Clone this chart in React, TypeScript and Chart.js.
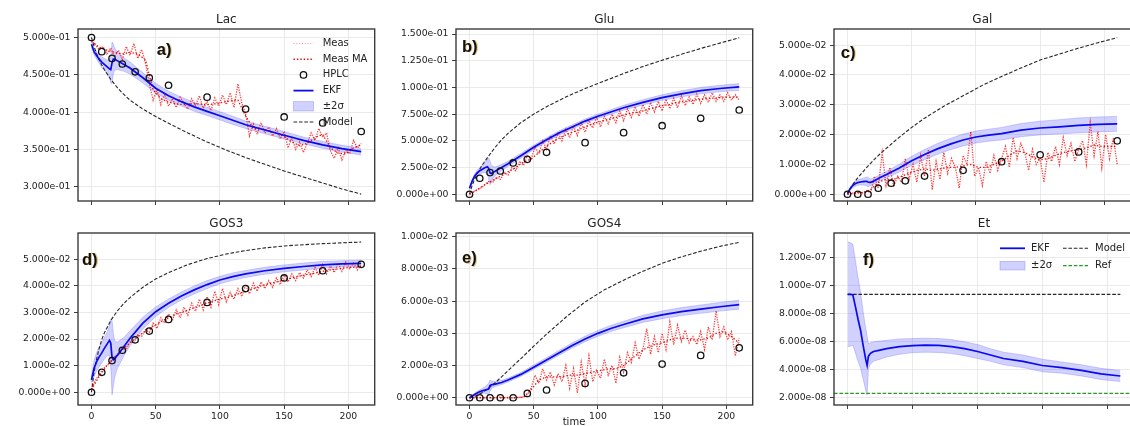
import React, { useEffect, useRef } from "react";
import { Chart, registerables } from "chart.js";

Chart.register(...registerables);

// ---------------- time grids ----------------
const tMeas = [0, 3, 6, 9, 12, 15, 18, 21, 24, 27, 30, 33, 36, 39, 42, 45, 48, 51, 54, 57, 60, 63, 66, 69, 72, 75, 78, 81, 84, 87, 90, 93, 96, 99, 102, 105, 108, 111, 114, 117, 120, 123, 126, 129, 132, 135, 138, 141, 144, 147, 150, 153, 156, 159, 162, 165, 168, 171, 174, 177, 180, 183, 186, 189, 192, 195, 198, 201, 204, 207, 210];
const tMA = [0, 6, 12, 18, 24, 30, 36, 42, 48, 54, 60, 66, 72, 78, 84, 90, 96, 102, 108, 114, 120, 126, 132, 138, 144, 150, 156, 162, 168, 174, 180, 186, 192, 198, 204, 210];
const tHPLC = [0, 8, 16, 24, 34, 45, 60, 90, 120, 150, 180, 210];
const tEKF = [0, 2, 4, 6, 8, 10, 12, 14, 15, 16, 17, 18, 20, 25, 30, 40, 50, 60, 70, 80, 90, 100, 110, 120, 135, 150, 165, 180, 195, 210];
const tModel = [0, 2, 4, 6, 8, 10, 15, 20, 25, 30, 40, 50, 60, 75, 90, 105, 120, 135, 150, 165, 180, 195, 210];
const tModelF = [0, 210];
const tRefF = [-10.5, 220.5];
const xTicks = [0, 50, 100, 150, 200];

// ---------------- a) Lac  (units 1e-3) ----------------
const lacMeas = [496, 490, 484, 488, 478, 486, 474, 483, 470, 488, 476, 492, 472, 484, 466, 438, 416, 430, 410, 424, 408, 418, 406, 420, 412, 404, 418, 409, 422, 405, 414, 402, 419, 408, 423, 410, 426, 406, 438, 412, 398, 368, 384, 370, 386, 372, 380, 368, 378, 364, 374, 352, 366, 350, 360, 346, 358, 372, 362, 378, 366, 372, 348, 338, 352, 336, 350, 344, 362, 352, 358];
const lacMA = [495, 487, 483, 480, 478, 480, 478, 470, 430, 418, 413, 411, 410, 411, 411, 410, 411, 413, 415, 416, 395, 378, 377, 375, 372, 367, 360, 355, 358, 366, 370, 352, 345, 344, 352, 356];
const lacHPLC = [500, 481, 472, 464.5, 454, 446, 436, 420, 404, 393.5, 385.5, 374];
const lacModel = [500, 488, 478, 470, 463, 457, 444, 433, 424, 416, 404, 394, 385, 372, 360, 349, 339, 330, 321, 313, 305, 297, 290];
const lacEKF = [491, 481, 476, 471, 467, 464, 461, 458, 457, 466, 471, 471, 469, 464, 459, 446, 432, 422, 414, 407, 401, 395, 389, 383, 376, 369, 362, 356, 351, 347];
const lacHW = [3, 4, 5, 6, 7, 8, 9, 12, 18, 28, 20, 15, 12, 9, 8, 7, 6.5, 6, 6, 6, 5.5, 5.5, 5.5, 5, 5, 5, 4.5, 4.5, 4.5, 4.5];
const lacYTicks = [300, 350, 400, 450, 500];

// ---------------- b) Glu  (units 1e-3) ----------------
const gluMeas = [0, 2.5, 4.5, 6, 9, 12, 11, 16, 14, 20, 18, 25, 22, 31, 27, 36, 33, 44, 38, 50, 42, 55, 47, 58, 50, 61, 53, 64, 55, 67, 58, 69, 62, 72, 63, 73, 66, 75, 67, 78, 69, 80, 72, 82, 73, 84, 75, 86, 77, 87, 78, 89, 80, 90, 81, 92, 83, 91, 84, 94, 85, 93, 86, 95, 87, 93, 87, 95, 88, 93, 88];
const gluMA = [0, 4, 9, 13, 17, 21, 25, 30, 33, 39, 45, 50, 54, 57, 60, 63, 66, 68, 70, 72, 74, 76, 77, 79, 81, 83, 84, 86, 87, 88, 89, 90, 90, 91, 91, 91];
const gluHPLC = [0, 15, 20.3, 21.8, 29.3, 32.7, 39.3, 48.3, 57.7, 64.2, 71.1, 78.9];
const gluModel = [0, 8, 14, 19, 23.5, 27.5, 36, 44, 51, 57, 67, 75, 82, 91, 99, 106, 113, 119.5, 125.5, 131, 136.5, 141.5, 146.5];
const gluEKF = [5.6, 12, 17, 20, 22, 23.5, 24.8, 25.8, 24, 20, 19.5, 20.3, 21.5, 25, 28.5, 36, 44, 51, 57.5, 63, 68.5, 73, 77, 81, 86, 90.5, 94, 97, 99, 100.5];
const gluHW = [1, 1.5, 2, 2.5, 3, 3.5, 4.5, 7, 10, 11, 8, 6, 4, 3, 2.5, 2.2, 2, 2, 2, 2, 2, 2, 2.2, 2.3, 2.5, 2.6, 2.8, 3, 3, 3.2];
const gluYTicks = [0, 25, 50, 75, 100, 125, 150];

// ---------------- c) Gal  (units 1e-3) ----------------
const galMeas = [0, 0.5, 0.3, 0.8, 0.4, 1.2, 0.5, 6, 2, 14, 3, 9, 2.5, 6, 4, 12, 5, 10, 4, 13, 6, 15, 1.5, 11, 5, 14, 7, 12, 9, 2, 13, 10, 21, 6, 9, 3, 11, 7, 13, 8, 12, 16, 9, 19, 12, 17, 14, 8, 15, 10, 12, 4, 14, 11, 16, 10, 19, 13, 17, 11, 15, 18, 10, 24, 13, 21, 9, 20, 12, 19, 10];
const galMA = [0, 0.4, 0.6, 1.5, 4, 5, 5, 6, 7, 8, 8.5, 8, 8.5, 9, 9, 9.5, 10, 9, 9, 10, 11, 13, 14.5, 14, 12.5, 11.5, 12, 13, 14, 14.5, 15, 15.5, 16.5, 16, 16, 16];
const galHPLC = [0, 0, 0, 2, 3.7, 4.5, 6.1, 8, 10.9, 13.2, 14.2, 17.9];
const galModel = [0, 1.8, 3.2, 4.4, 5.5, 6.5, 9, 11.3, 13.4, 15.3, 19, 22.4, 25.5, 29.5, 33, 36.5, 39.5, 42.3, 45, 47, 49, 50.8, 52.5];
const galEKF = [0.3, 1.8, 2.9, 3.5, 3.9, 4.1, 4.2, 4.3, 4.3, 4.1, 4.0, 4.0, 4.3, 5.5, 6.5, 8.7, 11.2, 13.3, 15.2, 16.8, 18.2, 19.2, 19.8, 20.3, 21.5, 22.2, 22.6, 23.1, 23.4, 23.6];
const galHW = [0.3, 0.5, 0.7, 0.8, 0.9, 1.0, 1.1, 1.3, 1.5, 1.6, 1.3, 1.1, 1.0, 1.0, 1.1, 1.3, 1.5, 1.7, 1.8, 1.9, 2.0, 2.0, 2.0, 2.1, 2.2, 2.3, 2.4, 2.5, 2.5, 2.5];
const galYTicks = [0, 10, 20, 30, 40, 50];

// ---------------- d) GOS3  (units 1e-3) ----------------
const gos3Meas = [1, 4.5, 6.5, 8.8, 10, 11.5, 13.5, 14, 16.5, 16, 19, 18.5, 21.5, 21, 23.5, 22.5, 26, 24, 28, 26, 29.5, 27, 31, 28, 32, 29, 33.5, 30.5, 35, 31, 36, 32, 38, 33, 39, 34, 37.5, 35, 39, 36, 40.5, 37, 41, 38, 41.5, 39, 42, 39.5, 43, 40.5, 44, 41.5, 44.5, 42, 45, 43, 46, 43.5, 47, 44, 48, 44.5, 47.5, 45, 48.5, 45.5, 49, 46.5, 48.5, 46, 48];
const gos3MA = [1, 6, 10, 13, 16, 18.5, 21, 23, 24.8, 26.5, 28, 29.5, 30.3, 31.5, 32.5, 33.5, 34.5, 35.3, 36, 37, 38, 39, 40, 40.8, 41.5, 42.2, 43, 43.7, 44.3, 44.8, 45.5, 46, 46.4, 46.8, 47, 47.2];
const gos3HPLC = [0, 7.5, 11.9, 15.8, 19.7, 23, 27.4, 33.8, 39, 43, 45.7, 48.1];
const gos3Model = [0, 7.5, 12.5, 16.5, 19.8, 22.3, 27, 30.5, 33.3, 35.6, 39.5, 42.6, 45, 48, 50.3, 52, 53.3, 54.3, 55, 55.5, 55.9, 56.2, 56.5];
const gos3EKF = [4.6, 9, 11.5, 13.3, 14.8, 16.5, 18, 19.5, 18.5, 13, 12.2, 12.5, 13.8, 17, 20.3, 26, 30.3, 33.5, 36.2, 38.5, 40.5, 42.2, 43.5, 44.5, 45.7, 46.6, 47.3, 47.9, 48.3, 48.5];
const gos3HW = [1, 3, 3.5, 3.7, 3.8, 4, 4.5, 5.5, 9, 14, 10, 7, 5, 3.5, 2.8, 2.2, 1.8, 1.6, 1.5, 1.5, 1.5, 1.4, 1.4, 1.3, 1.3, 1.3, 1.3, 1.3, 1.2, 1.2];
const gos3YTicks = [0, 10, 20, 30, 40, 50];

// ---------------- e) GOS4  (units 1e-4) ----------------
const gos4Meas = [0, 0.2, -0.1, 0.3, 0, 0.2, -0.2, 0.1, 0.3, 0, 0.2, -0.1, 0.2, 0.3, 0.5, 2, 6, 14, 9, 18, 11, 16, 8, 15, 10, 20, 6, 18, 3, 22, 8, 26, 10, 17, 12, 24, 14, 20, 9, 25, 16, 28, 22, 34, 24, 30, 43, 27, 38, 28, 40, 30, 47, 33, 45, 35, 42, 34, 38, 33, 41, 30, 44, 36, 54, 38, 44, 36, 41, 26, 37];
const gos4MA = [0, 0, 0, 0, 0, 0, 0, 0.3, 5, 11, 13, 13, 13, 14, 14, 15, 16, 17, 18, 18, 20, 24, 28, 31, 33, 34, 36, 37, 37, 36, 36, 37, 40, 41, 38, 34];
const gos4HPLC = [0, 0, 0, 0, 0, 2.7, 4.8, 8.9, 15.5, 20.9, 26.3, 31];
const gos4Model = [0, 0.3, 0.8, 1.5, 2.3, 3.2, 6, 9.3, 13, 16.8, 24.3, 32, 39.5, 50, 59.5, 67, 73, 78.5, 83.5, 87.5, 91, 94, 96.5];
const gos4EKF = [0, 1, 2, 3, 3.7, 4.3, 4.8, 5.2, 5.5, 7.5, 8, 8.2, 8.5, 9.5, 11, 14.5, 19, 23.5, 28, 32.5, 36.5, 40, 43, 45.5, 49, 51.5, 53.5, 55, 56.5, 57.8];
const gos4HW = [0.5, 0.7, 0.8, 1, 1.2, 1.5, 2, 3, 3.5, 3.5, 2.5, 2, 1.5, 1.3, 1.2, 1.2, 1.3, 1.4, 1.5, 1.6, 1.7, 1.8, 1.9, 2, 2.2, 2.4, 2.5, 2.6, 2.7, 2.8];
const gos4YTicks = [0, 20, 40, 60, 80, 100];

// ---------------- f) Et  (units 1e-8) ----------------
const etEKF = [9.38, 9.38, 9.35, 8.5, 7.6, 6.8, 5.7, 4.7, 4.3, 4.95, 5.1, 5.2, 5.3, 5.4, 5.5, 5.65, 5.72, 5.75, 5.73, 5.65, 5.5, 5.3, 5.05, 4.8, 4.6, 4.3, 4.15, 3.95, 3.7, 3.55];
const etHW = [3.75, 3.7, 3.6, 3.3, 3.0, 2.7, 2.4, 2.2, 2.1, 0.9, 0.8, 0.75, 0.7, 0.65, 0.6, 0.55, 0.5, 0.5, 0.5, 0.5, 0.5, 0.5, 0.45, 0.45, 0.45, 0.45, 0.4, 0.4, 0.4, 0.4];
const etModel = [9.38, 9.38];
const etRef = [2.31, 2.31];
const etYTicks = [2, 4, 6, 8, 10, 12];

// ---------------- labels ----------------
const titles = ["Lac", "Glu", "Gal", "GOS3", "GOS4", "Et"];
const letters = ["a)", "b)", "c)", "d)", "e)", "f)"];
const legendALabels = ["Meas", "Meas MA", "HPLC", "EKF", "\u00b12\u03c3", "Model"];
const legendAKinds = ["meas", "ma", "hplc", "ekf", "band", "model"];
const legendFLabels = ["EKF", "\u00b12\u03c3", "Model", "Ref"];
const legendFKinds = ["ekf", "band", "model", "ref"];
const xAxisLabel = "time";

// ---------------- styles ----------------
const FONT = "'DejaVu Sans', sans-serif";
const TEXT = "#222222";
const SPINE = "#3c3c3c";
const GRID = "#e4e4e4";
const RED_MEAS = "rgba(255,20,20,0.85)";
const RED_MA = "rgba(225,0,0,0.95)";
const BLUE = "#0a0aef";
const BAND_FILL = "rgba(45,45,255,0.22)";
const BAND_EDGE = "rgba(45,45,255,0.3)";
const MODEL_C = "#262626";
const REF_C = "#279a27";
const MEAS_DASH = [1.2, 1.3];
const MA_DASH = [1.4, 2.0];
const MODEL_DASH = [3.6, 1.8];

function sci(x: number): string {
  const s = x.toExponential(3);
  const [m, e] = s.split("e");
  const sign = e[0] === "-" ? "-" : "+";
  const d = e.replace(/[+-]/, "").padStart(2, "0");
  return m + "e" + sign + d;
}

const pts = (xs: number[], ys: number[]) => xs.map((x, i) => ({ x, y: ys[i] }));

type PanelSpec = {
  key: string;
  title: string;
  letter: string;
  letterX: number;
  letterY: number;
  unit: number;
  yMin: number;
  yMax: number;
  yTicks: number[];
  meas?: number[];
  ma?: number[];
  hplc?: number[];
  model: number[];
  modelT: number[];
  ekf: number[];
  hw: number[];
  ref?: number[];
  showXLabels: boolean;
  legend?: "a" | "f";
  timeLabel?: boolean;
  box: { x: number; y: number; w: number; h: number; yAxisW: number; padTop: number; padRight: number; xAxisH: number };
};

const COLS = [
  { x: 0, w: 380, yAxisW: 78 },
  { x: 380, w: 378, yAxisW: 76 },
  { x: 758, w: 378, yAxisW: 76 },
];
const ROWS = [
  { y: 0, h: 214, padTop: 29, xAxisH: 13 },
  { y: 214, h: 212, padTop: 19, xAxisH: 21 },
];
const boxAt = (c: number, r: number) => ({
  x: COLS[c].x, w: COLS[c].w, yAxisW: COLS[c].yAxisW, padRight: 2,
  y: ROWS[r].y, h: ROWS[r].h, padTop: ROWS[r].padTop, xAxisH: ROWS[r].xAxisH,
});

const panels: PanelSpec[] = [
  { key: "a", title: titles[0], letter: letters[0], letterX: 78.7, letterY: 21, unit: 1e-3, yMin: 280.8, yMax: 511.4, yTicks: lacYTicks,
    meas: lacMeas, ma: lacMA, hplc: lacHPLC, model: lacModel, modelT: tModel, ekf: lacEKF, hw: lacHW, showXLabels: false, legend: "a", box: boxAt(0, 0) },
  { key: "b", title: titles[1], letter: letters[1], letterX: 6, letterY: 18, unit: 1e-3, yMin: -6.3, yMax: 154.7, yTicks: gluYTicks,
    meas: gluMeas, ma: gluMA, hplc: gluHPLC, model: gluModel, modelT: tModel, ekf: gluEKF, hw: gluHW, showXLabels: false, box: boxAt(1, 0) },
  { key: "c", title: titles[2], letter: letters[2], letterX: 6.7, letterY: 24, unit: 1e-3, yMin: -2.27, yMax: 55.4, yTicks: galYTicks,
    meas: galMeas, ma: galMA, hplc: galHPLC, model: galModel, modelT: tModel, ekf: galEKF, hw: galHW, showXLabels: false, box: boxAt(2, 0) },
  { key: "d", title: titles[3], letter: letters[3], letterX: 4, letterY: 27, unit: 1e-3, yMin: -4.8, yMax: 59.9, yTicks: gos3YTicks,
    meas: gos3Meas, ma: gos3MA, hplc: gos3HPLC, model: gos3Model, modelT: tModel, ekf: gos3EKF, hw: gos3HW, showXLabels: true, box: boxAt(0, 1) },
  { key: "e", title: titles[4], letter: letters[4], letterX: 6, letterY: 25.5, unit: 1e-4, yMin: -4.5, yMax: 102.3, yTicks: gos4YTicks,
    meas: gos4Meas, ma: gos4MA, hplc: gos4HPLC, model: gos4Model, modelT: tModel, ekf: gos4EKF, hw: gos4HW, showXLabels: true, timeLabel: true, box: boxAt(1, 1) },
  { key: "f", title: titles[5], letter: letters[5], letterX: 29, letterY: 27, unit: 1e-8, yMin: 1.48, yMax: 13.76, yTicks: etYTicks,
    model: etModel, modelT: tModelF, ekf: etEKF, hw: etHW, ref: etRef, showXLabels: false, legend: "f", box: boxAt(2, 1) },
];

function drawHandle(ctx: CanvasRenderingContext2D, kind: string, x0: number, x1: number, y: number, bandH: number) {
  ctx.save();
  ctx.setLineDash([]);
  ctx.lineCap = "butt";
  const line = () => { ctx.beginPath(); ctx.moveTo(x0, y); ctx.lineTo(x1, y); ctx.stroke(); };
  if (kind === "meas") { ctx.strokeStyle = "rgba(255,60,60,0.55)"; ctx.lineWidth = 1; ctx.setLineDash([1.1, 1.7]); line(); }
  else if (kind === "ma") { ctx.strokeStyle = RED_MA; ctx.lineWidth = 1.4; ctx.setLineDash(MA_DASH); line(); }
  else if (kind === "hplc") { ctx.strokeStyle = "#111"; ctx.lineWidth = 1.3; ctx.beginPath(); ctx.arc((x0 + x1) / 2, y, 3.2, 0, Math.PI * 2); ctx.stroke(); }
  else if (kind === "ekf") { ctx.strokeStyle = BLUE; ctx.lineWidth = 1.8; line(); }
  else if (kind === "band") { ctx.fillStyle = BAND_FILL; ctx.fillRect(x0, y - bandH / 2, x1 - x0, bandH); ctx.strokeStyle = BAND_EDGE; ctx.lineWidth = 0.8; ctx.strokeRect(x0, y - bandH / 2, x1 - x0, bandH); }
  else if (kind === "model") { ctx.strokeStyle = MODEL_C; ctx.lineWidth = 1.1; ctx.setLineDash(MODEL_DASH); line(); }
  else if (kind === "ref") { ctx.strokeStyle = REF_C; ctx.lineWidth = 1.2; ctx.setLineDash(MODEL_DASH); line(); }
  ctx.restore();
}

function makeDecor(p: PanelSpec) {
  return {
    id: "decor_" + p.key,
    afterDraw(chart: any) {
      const ctx: CanvasRenderingContext2D = chart.ctx;
      const a = chart.chartArea;
      ctx.save();
      ctx.setLineDash([]);
      // spines
      ctx.strokeStyle = SPINE;
      ctx.lineWidth = 1.4;
      ctx.strokeRect(a.left, a.top, a.right - a.left, a.bottom - a.top);
      // title
      ctx.fillStyle = TEXT;
      ctx.font = `12px ${FONT}`;
      ctx.textAlign = "center";
      ctx.textBaseline = "middle";
      ctx.fillText(p.title, (a.left + a.right) / 2, a.top - 9);
      // panel letter
      ctx.font = `bold 16.5px 'Liberation Sans', sans-serif`;
      ctx.textAlign = "left";
      ctx.fillStyle = "rgba(215,150,40,0.55)";
      ctx.fillText(p.letter, a.left + p.letterX + 1.1, a.top + p.letterY + 0.6);
      ctx.fillStyle = "#111";
      ctx.fillText(p.letter, a.left + p.letterX, a.top + p.letterY);
      // legends
      ctx.font = `10px ${FONT}`;
      ctx.fillStyle = TEXT;
      ctx.textBaseline = "middle";
      if (p.legend === "a") {
        const rows = [14.5, 30.2, 45.9, 61.6, 77.3, 93];
        legendALabels.forEach((lab, i) => {
          const y = a.top + rows[i];
          drawHandle(ctx, legendAKinds[i], a.left + 215.5, a.left + 235.5, y, 9.3);
          ctx.fillStyle = TEXT;
          ctx.fillText(lab, a.left + 244.7, y);
        });
      } else if (p.legend === "f") {
        const rows = [15.3, 32.7];
        const cols = [{ h0: 166, h1: 191, tx: 197 }, { h0: 229, h1: 254, tx: 261 }];
        legendFLabels.forEach((lab, i) => {
          const c = cols[Math.floor(i / 2)];
          const y = a.top + rows[i % 2];
          drawHandle(ctx, legendFKinds[i], a.left + c.h0, a.left + c.h1, y, 8.5);
          ctx.fillStyle = TEXT;
          ctx.fillText(lab, a.left + c.tx, y);
        });
      }
      if (p.timeLabel) {
        ctx.font = `10px ${FONT}`;
        ctx.textAlign = "center";
        ctx.fillStyle = TEXT;
        ctx.fillText(xAxisLabel, a.left + 118, a.bottom + 17.5);
      }
      ctx.restore();
    },
  };
}

function buildConfig(p: PanelSpec): any {
  const lo = p.ekf.map((v, i) => v - p.hw[i]);
  const hi = p.ekf.map((v, i) => v + p.hw[i]);
  const base = { pointRadius: 0, tension: 0, fill: false, borderCapStyle: "butt" };
  const datasets: any[] = [
    { ...base, label: "band-lo", data: pts(tEKF, lo), borderColor: BAND_EDGE, borderWidth: 0.7, order: 7 },
    { ...base, label: "\u00b12\u03c3", data: pts(tEKF, hi), borderColor: BAND_EDGE, borderWidth: 0.7, fill: "-1", backgroundColor: BAND_FILL, order: 7 },
    { ...base, label: "Model", data: pts(p.modelT, p.model), borderColor: MODEL_C, borderWidth: 1.1, borderDash: MODEL_DASH, order: 5 },
  ];
  if (p.meas) datasets.push({ ...base, label: "Meas", data: pts(tMeas, p.meas), borderColor: RED_MEAS, borderWidth: 1.3, borderDash: MEAS_DASH, order: 4 });
  if (p.ma) datasets.push({ ...base, label: "Meas MA", data: pts(tMA, p.ma), borderColor: RED_MA, borderWidth: 1.3, borderDash: MA_DASH, order: 3 });
  datasets.push({ ...base, label: "EKF", data: pts(tEKF, p.ekf), borderColor: BLUE, borderWidth: 1.7, order: 2 });
  if (p.hplc) datasets.push({ label: "HPLC", data: pts(tHPLC, p.hplc), showLine: false, pointRadius: 3.2, pointBorderWidth: 1.3, pointBorderColor: "#111", pointBackgroundColor: "rgba(0,0,0,0)", order: 1 });
  if (p.ref) datasets.push({ ...base, label: "Ref", data: pts(tRefF, p.ref), borderColor: REF_C, borderWidth: 1.3, borderDash: MODEL_DASH, order: 6 });

  const tickFont = { family: FONT, size: 9.3 };
  return {
    type: "line",
    data: { datasets },
    plugins: [makeDecor(p)],
    options: {
      animation: false,
      responsive: false,
      devicePixelRatio: 1,
      events: [],
      layout: { padding: { top: p.box.padTop, right: p.box.padRight, left: 0, bottom: 0 } },
      plugins: { legend: { display: false }, tooltip: { enabled: false }, title: { display: false } },
      scales: {
        x: {
          type: "linear",
          min: -10.5,
          max: 220.5,
          afterBuildTicks: (s: any) => { s.ticks = xTicks.map((v) => ({ value: v })); },
          afterFit: (s: any) => { s.height = p.box.xAxisH; },
          grid: { color: GRID, lineWidth: 0.8, drawTicks: true, tickLength: 4, tickColor: SPINE, tickWidth: 1 },
          border: { display: false },
          ticks: { display: p.showXLabels, autoSkip: false, maxRotation: 0, padding: 2, font: tickFont, color: TEXT, callback: (v: number) => String(v) },
        },
        y: {
          type: "linear",
          min: p.yMin,
          max: p.yMax,
          afterBuildTicks: (s: any) => { s.ticks = p.yTicks.map((v) => ({ value: v })); },
          afterFit: (s: any) => { s.width = p.box.yAxisW; },
          grid: { color: GRID, lineWidth: 0.8, drawTicks: true, tickLength: 4, tickColor: SPINE, tickWidth: 1 },
          border: { display: false },
          ticks: { autoSkip: false, padding: 3.5, font: tickFont, color: TEXT, callback: (v: number) => sci(v * p.unit) },
        },
      },
    },
  };
}

function Panel({ p }: { p: PanelSpec }) {
  const ref = useRef<HTMLCanvasElement>(null);
  useEffect(() => {
    const chart = new Chart(ref.current as HTMLCanvasElement, buildConfig(p));
    return () => chart.destroy();
  }, [p]);
  return (
    <canvas
      ref={ref}
      width={p.box.w}
      height={p.box.h}
      style={{ position: "absolute", left: p.box.x, top: p.box.y, width: p.box.w, height: p.box.h }}
    />
  );
}

export default function App() {
  return (
    <div style={{ position: "fixed", left: 0, top: 0, width: 1130, height: 426, overflow: "hidden", background: "#ffffff" }}>
      {panels.map((p) => (
        <Panel key={p.key} p={p} />
      ))}
    </div>
  );
}
